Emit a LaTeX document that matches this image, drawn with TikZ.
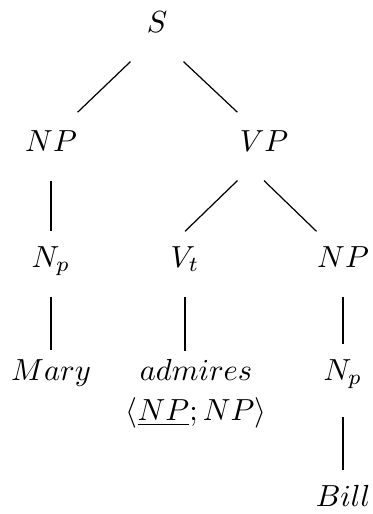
\documentclass[tikz,border=0pt]{standalone}
\usepackage{amssymb,amsmath}
\usepackage{tikz}
\usetikzlibrary{positioning,calc}

\begin{document}
\begin{tikzpicture}[scale=1.0,
cat/.style={anchor=base,inner sep=0pt,minimum width=17pt,text height=11.5pt,text depth=9.5pt},
lex/.style={anchor=base,align=center,inner xsep=0pt,inner ysep=2.6pt}]
\useasboundingbox (0,0) rectangle (4.287,-5.923);
\node[cat] (S) at (1.809,-0.369) {$S$};
\node[cat,text height=12.5pt] (NP1) at (0.588,-1.740) {$NP$};
\node[cat,text height=12.5pt] (VP) at (3.042,-1.740) {$VP$};
\node[cat] (Np1) at (0.588,-3.077) {$N_p$};
\node[cat] (Vt) at (2.132,-3.077) {$V_t$};
\node[cat] (NP2) at (3.953,-3.077) {$NP$};
\node[cat,text height=9.5pt] (Mary) at (0.588,-4.379) {$Mary$};
\node[lex] (admires) at (2.259,-4.840) {$admires$\\[1pt]$\langle\underline{NP};NP\rangle$};
\node[cat,text depth=12pt] (Np2) at (3.953,-4.379) {$N_p$};
\node[cat] (Bill) at (3.953,-5.831) {$Bill$};
%\node (T) at (2,-6) {$\top$};
\path[-]
(S.south west) edge (NP1.north east)
(S.south east) edge (VP.north west)
(NP1) edge (Np1)
(VP.south west) edge (Vt.north)
(VP.south) edge (NP2.north west)
(Np1) edge (Mary)
(Vt.south) edge (Vt.south |- admires.north)
(NP2) edge (Np2)
(Np2) edge (Bill);
\end{tikzpicture}
\end{document}
